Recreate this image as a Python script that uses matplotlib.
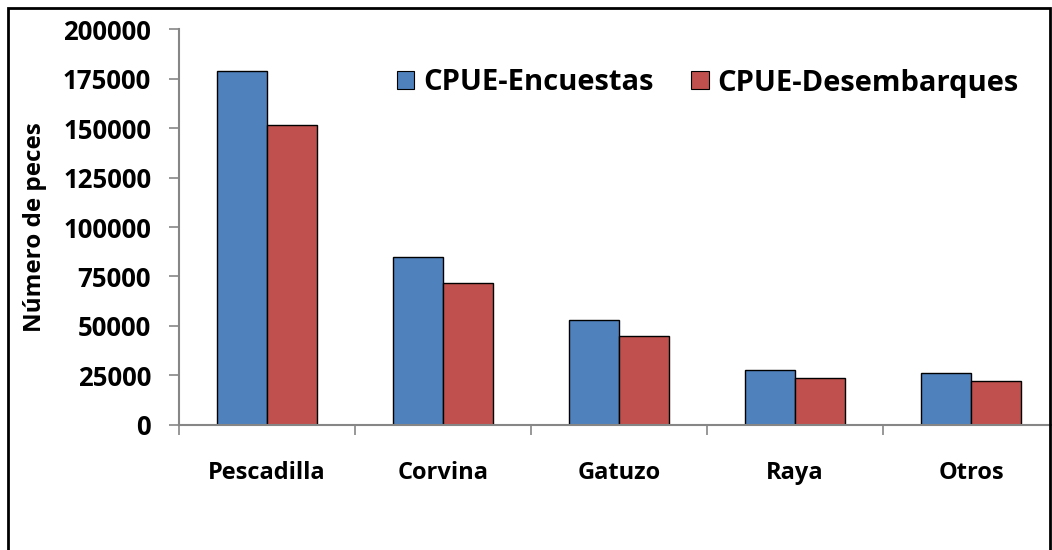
import matplotlib
matplotlib.use('Agg')
from matplotlib import pyplot as plt
from matplotlib.patches import Rectangle, Patch
import numpy as np

categories = ['Pescadilla', 'Corvina', 'Gatuzo', 'Raya', 'Otros']
encuestas = [179000, 85000, 53000, 27600, 26100]
desembarques = [151400, 71600, 45000, 23300, 22000]
yticks = [0, 25000, 50000, 75000, 100000, 125000, 150000, 175000, 200000]

blue = '#4F81BD'
red = '#C0504D'
grey = '#868686'

plt.rcParams['font.family'] = ['Open Sans', 'DejaVu Sans']
plt.rcParams['font.weight'] = 'bold'

fig = plt.figure(figsize=(10.52, 5.5), dpi=100)
ax = fig.add_axes([179 / 1052, 1 - 424.5 / 550, 880 / 1052, 395 / 550])

x = np.arange(len(categories))
w = 0.285
ax.bar(x - w / 2, encuestas, w, color=blue, edgecolor='black', linewidth=1, label='CPUE-Encuestas')
ax.bar(x + w / 2, desembarques, w, color=red, edgecolor='black', linewidth=1, label='CPUE-Desembarques')

ax.set_xlim(-0.5, len(categories) - 0.5)
ax.set_ylim(0, 200000)
ax.set_yticks(yticks)
ax.set_yticklabels([str(v) for v in yticks], fontsize=18.5, fontweight='bold')
ax.set_xticks(x)
ax.set_xticklabels(categories, fontsize=17, fontweight='bold')
ax.set_xticks(np.arange(-0.5, len(categories)), minor=True)
ax.tick_params(axis='x', which='major', length=0, pad=26)
ax.tick_params(axis='x', which='minor', length=7, color=grey, width=1.2)
ax.tick_params(axis='y', length=7, color=grey, width=1.2, pad=13)

for s in ['top', 'right']:
    ax.spines[s].set_visible(False)
for s in ['left', 'bottom']:
    ax.spines[s].set_color(grey)
    ax.spines[s].set_linewidth(1.5)

ax.set_ylabel('Número de peces', fontsize=17.5, fontweight='bold')
ax.yaxis.set_label_coords(-132 / 880, 0.5)

handles = [Patch(facecolor=blue, edgecolor='black', linewidth=0.8),
           Patch(facecolor=red, edgecolor='black', linewidth=0.8)]
fig.legend(handles, ['CPUE-Encuestas', 'CPUE-Desembarques'], loc='center left',
           bbox_to_anchor=(385 / 1052, 1 - 83 / 550), ncol=2, frameon=False,
           prop={'size': 21, 'weight': 'bold'}, handlelength=0.6, handleheight=0.6,
           handletextpad=0.3, columnspacing=1.3, borderaxespad=0)

fig.patches.append(Rectangle((8 / 1052, -0.1), 1042 / 1052, 1.1 - 8 / 550, transform=fig.transFigure,
                             fill=False, edgecolor='black', linewidth=2))

fig.savefig('out.png', dpi=100)
